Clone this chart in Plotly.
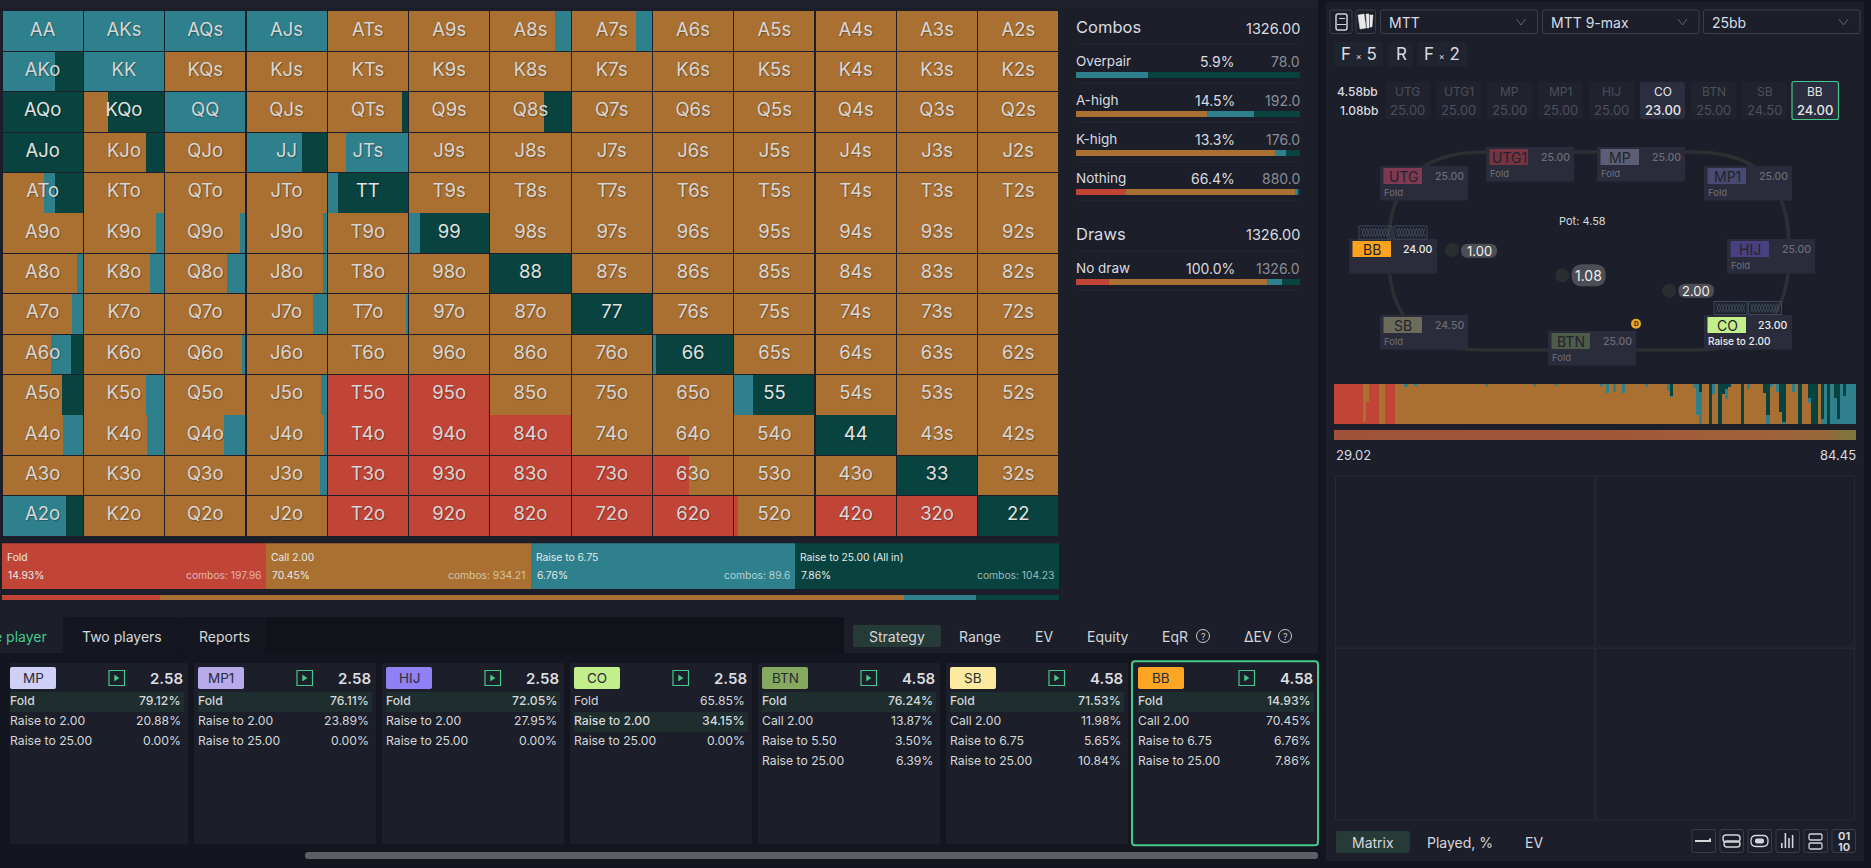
import numpy as np
import plotly.graph_objects as go

W, H = 1871, 868
FONT = "Inter"

RED = "#c04537"
ORANGE = "#a97031"
TEAL = "#2e808c"
DARK = "#08433f"
GREEN = "#44c98a"
PANEL = "#1c1f29"
OUTER = "#13161e"
TEXT = "#d9dbe0"

# ---- range matrix, percent of each hand per action
ranks = ["A", "K", "Q", "J", "T", "9", "8", "7", "6", "5", "4", "3", "2"]

matrix_fold = [
    [0, 0, 0, 0, 0, 0, 0, 0, 0, 0, 0, 0, 0],
    [0, 0, 0, 0, 0, 0, 0, 0, 0, 0, 0, 0, 0],
    [0, 0, 0, 0, 0, 0, 0, 0, 0, 0, 0, 0, 0],
    [0, 0, 0, 0, 0, 0, 0, 0, 0, 0, 0, 0, 0],
    [0, 0, 0, 0, 0, 0, 0, 0, 0, 0, 0, 0, 0],
    [0, 0, 0, 0, 0, 0, 0, 0, 0, 0, 0, 0, 0],
    [0, 0, 0, 0, 0, 0, 0, 0, 0, 0, 0, 0, 0],
    [0, 0, 0, 0, 0, 0, 0, 0, 0, 0, 0, 0, 0],
    [0, 0, 0, 0, 0, 0, 0, 0, 0, 0, 0, 0, 0],
    [0, 0, 0, 0, 100, 100, 0, 0, 0, 0, 0, 0, 0],
    [0, 0, 0, 0, 100, 100, 100, 0, 0, 0, 0, 0, 0],
    [0, 0, 0, 0, 100, 100, 100, 100, 45, 0, 0, 0, 0],
    [0, 0, 0, 0, 100, 100, 100, 100, 100, 5, 100, 100, 0],
]
matrix_call = [
    [0, 0, 0, 0, 100, 100, 81, 80, 100, 100, 100, 100, 100],
    [0, 0, 100, 100, 100, 100, 100, 100, 100, 100, 100, 100, 100],
    [0, 30, 0, 100, 92, 100, 66.5, 100, 100, 100, 100, 100, 100],
    [0, 77, 100, 0, 23, 100, 100, 100, 100, 100, 100, 100, 100],
    [52, 100, 100, 100, 0, 100, 100, 100, 100, 100, 100, 100, 100],
    [100, 90, 93, 95, 100, 0, 100, 100, 100, 100, 100, 100, 100],
    [93, 82, 77, 95, 100, 100, 0, 100, 100, 100, 100, 100, 100],
    [86.5, 100, 100, 83, 98, 100, 100, 0, 100, 100, 100, 100, 100],
    [60, 100, 96, 100, 100, 100, 100, 100, 0, 100, 100, 100, 100],
    [74, 77, 100, 93.5, 0, 0, 100, 100, 100, 0, 100, 100, 100],
    [76, 79, 73.5, 97, 0, 0, 0, 100, 100, 100, 0, 100, 100],
    [100, 100, 100, 92, 0, 0, 0, 0, 55, 100, 100, 0, 100],
    [0, 100, 100, 100, 0, 0, 0, 0, 0, 95, 0, 0, 0],
]
matrix_raise = [
    [100, 100, 100, 100, 0, 0, 19, 20, 0, 0, 0, 0, 0],
    [65, 100, 0, 0, 0, 0, 0, 0, 0, 0, 0, 0, 0],
    [0, 0, 100, 0, 0, 0, 0, 0, 0, 0, 0, 0, 0],
    [0, 0, 0, 69, 77, 0, 0, 0, 0, 0, 0, 0, 0],
    [13.5, 0, 0, 0, 12.5, 0, 0, 0, 0, 0, 0, 0, 0],
    [0, 10, 7, 5, 0, 13, 0, 0, 0, 0, 0, 0, 0],
    [7, 18, 23, 5, 0, 0, 0, 0, 0, 0, 0, 0, 0],
    [13.5, 0, 0, 17, 2, 0, 0, 0, 0, 0, 0, 0, 0],
    [26, 0, 4, 0, 0, 0, 0, 0, 4, 0, 0, 0, 0],
    [0, 23, 0, 6.5, 0, 0, 0, 0, 0, 23.5, 0, 0, 0],
    [24, 21, 26.5, 3, 0, 0, 0, 0, 0, 0, 0, 0, 0],
    [0, 0, 0, 8, 0, 0, 0, 0, 0, 0, 0, 0, 0],
    [79, 0, 0, 0, 0, 0, 0, 0, 0, 0, 0, 0, 0],
]
matrix_allin = [
    [0, 0, 0, 0, 0, 0, 0, 0, 0, 0, 0, 0, 0],
    [35, 0, 0, 0, 0, 0, 0, 0, 0, 0, 0, 0, 0],
    [100, 70, 0, 0, 8, 0, 33.5, 0, 0, 0, 0, 0, 0],
    [100, 23, 0, 31, 0, 0, 0, 0, 0, 0, 0, 0, 0],
    [34.5, 0, 0, 0, 87.5, 0, 0, 0, 0, 0, 0, 0, 0],
    [0, 0, 0, 0, 0, 87, 0, 0, 0, 0, 0, 0, 0],
    [0, 0, 0, 0, 0, 0, 100, 0, 0, 0, 0, 0, 0],
    [0, 0, 0, 0, 0, 0, 0, 100, 0, 0, 0, 0, 0],
    [14, 0, 0, 0, 0, 0, 0, 0, 96, 0, 0, 0, 0],
    [26, 0, 0, 0, 0, 0, 0, 0, 0, 76.5, 0, 0, 0],
    [0, 0, 0, 0, 0, 0, 0, 0, 0, 0, 100, 0, 0],
    [0, 0, 0, 0, 0, 0, 0, 0, 0, 0, 0, 100, 0],
    [21, 0, 0, 0, 0, 0, 0, 0, 0, 0, 0, 0, 100],
]

# ---- action summary
action_names = ["Fold", "Call 2.00", "Raise to 6.75", "Raise to 25.00 (All in)"]
action_pct = [14.93, 70.45, 6.76, 7.86]
action_combos = ["197.96", "934.21", "89.6", "104.23"]
action_colors = [RED, ORANGE, TEAL, DARK]

# ---- combos / draws breakdown
stat_names = ["Overpair", "A-high", "K-high", "Nothing", "No draw"]
stat_share = ["5.9%", "14.5%", "13.3%", "66.4%", "100.0%"]
stat_count = ["78.0", "192.0", "176.0", "880.0", "1326.0"]
stat_fold = [0, 0, 0, 22.3, 14.7]
stat_call = [0, 58.5, 88.8, 75.4, 70.5]
stat_raise = [32.1, 21, 4.9, 1.8, 6.7]
stat_allin = [67.9, 20.5, 6.3, 0.5, 8.1]

# ---- equity strip, run length: number of hands, then percent per action
strip_runs = [9, 1, 1, 3, 2, 3, 3, 1, 2, 1,
              21, 1, 14, 1, 6, 1, 13, 1, 1, 1,
              1, 1, 2, 1, 6, 1, 6, 1, 1, 6,
              1, 1, 1, 2, 1, 1, 1, 1, 1, 1,
              1, 3, 1, 1, 1, 4, 1, 1, 1, 1,
              1, 1, 1, 2, 1, 1, 1, 2, 1, 2,
              1, 1, 1, 1, 1, 1, 1, 1, 1, 3]
strip_fold = [100, 5, 55, 100, 0, 100, 0, 0, 0, 0,
              0, 0, 0, 0, 0, 0, 0, 0, 0, 0,
              0, 0, 0, 0, 0, 0, 0, 0, 0, 0,
              0, 0, 0, 0, 0, 0, 0, 0, 0, 0,
              0, 0, 0, 0, 0, 0, 0, 0, 0, 0,
              0, 0, 0, 0, 0, 0, 0, 0, 0, 0,
              0, 0, 0, 0, 0, 0, 0, 0, 0, 0]
strip_call = [0, 95, 45, 0, 100, 0, 100, 93, 100, 97,
              100, 97, 100, 97, 100, 94, 100, 95, 100, 77,
              100, 80, 100, 78, 100, 93, 100, 82, 68, 100,
              90, 23, 0, 100, 0, 75, 100, 0, 75, 63,
              92, 100, 0, 100, 88, 100, 78, 0, 93, 100,
              80, 30, 0, 100, 80, 100, 0, 100, 53, 0,
              100, 0, 0, 0, 0, 0, 0, 0, 0, 0]
strip_raise = [0, 0, 0, 0, 0, 0, 0, 7, 0, 3,
               0, 3, 0, 3, 0, 6, 0, 5, 0, 23,
               0, 20, 0, 22, 0, 7, 0, 18, 2, 0,
               10, 77, 80, 0, 0, 25, 0, 0, 0, 25,
               0, 0, 0, 0, 12, 0, 0, 22, 7, 0,
               20, 0, 5, 0, 20, 0, 0, 0, 12, 0,
               0, 12, 100, 0, 100, 65, 12, 100, 70, 100]
strip_allin = [0, 0, 0, 0, 0, 0, 0, 0, 0, 0,
               0, 0, 0, 0, 0, 0, 0, 0, 0, 0,
               0, 0, 0, 0, 0, 0, 0, 0, 30, 0,
               0, 0, 20, 0, 100, 0, 0, 100, 25, 12,
               8, 0, 100, 0, 0, 0, 22, 78, 0, 0,
               0, 70, 95, 0, 0, 0, 100, 0, 35, 100,
               0, 88, 0, 100, 0, 35, 88, 0, 30, 0]

equity_values = [29.02, 31, 33, 35, 37, 39, 41, 43, 45, 47, 49, 51, 53, 55, 57, 59, 61, 63, 65, 67,
                 69, 71, 73, 75, 77, 79, 81, 83, 84.45]

# ---- table seats
seat_names = ["UTG", "UTG1", "MP", "MP1", "HIJ", "BB", "SB", "BTN", "CO"]
seat_stacks = ["25.00", "25.00", "25.00", "25.00", "25.00", "24.00", "24.50", "25.00", "23.00"]
seat_actions = ["Fold", "Fold", "Fold", "Fold", "Fold", "", "Fold", "Fold", "Raise to 2.00"]
seat_badge = ["#7f3a52", "#763443", "#5b5e75", "#484a72", "#49407f", "#ffa31f", "#6d6b5c", "#4d5b48", "#c3ee8c"]
seat_left = [1380, 1486, 1597, 1704, 1727, 1349, 1380, 1548, 1704]
seat_top = [166, 147, 147, 166, 239, 239, 315, 331, 315]

row_names = ["UTG", "UTG1", "MP", "MP1", "HIJ", "CO", "BTN", "SB", "BB"]
row_stacks = ["25.00", "25.00", "25.00", "25.00", "25.00", "23.00", "25.00", "24.50", "24.00"]

# ---- strategy cards
card_names = ["MP", "MP1", "HIJ", "CO", "BTN", "SB", "BB"]
card_colors = ["#ced0f7", "#b8abeb", "#9180f5", "#c3ee8c", "#84a95f", "#fcea9e", "#ffa524"]
card_ev = ["2.58", "2.58", "2.58", "2.58", "4.58", "4.58", "4.58"]
card_lines = [
    [("Fold", "79.12%"), ("Raise to 2.00", "20.88%"), ("Raise to 25.00", "0.00%")],
    [("Fold", "76.11%"), ("Raise to 2.00", "23.89%"), ("Raise to 25.00", "0.00%")],
    [("Fold", "72.05%"), ("Raise to 2.00", "27.95%"), ("Raise to 25.00", "0.00%")],
    [("Fold", "65.85%"), ("Raise to 2.00", "34.15%"), ("Raise to 25.00", "0.00%")],
    [("Fold", "76.24%"), ("Call 2.00", "13.87%"), ("Raise to 5.50", "3.50%"), ("Raise to 25.00", "6.39%")],
    [("Fold", "71.53%"), ("Call 2.00", "11.98%"), ("Raise to 6.75", "5.65%"), ("Raise to 25.00", "10.84%")],
    [("Fold", "14.93%"), ("Call 2.00", "70.45%"), ("Raise to 6.75", "6.76%"), ("Raise to 25.00", "7.86%")],
]
card_best = [0, 0, 0, 1, 0, 0, 0]
card_left = [10, 194, 382, 570, 758, 946, 1132]
card_right = [188, 376, 564, 752, 940, 1128, 1318]
card_pad = [0, 4, 4, 4, 4, 4, 6]

shapes = []
notes = []


def box(x0, y0, x1, y1, fill=None, line=None, lw=1, layer="below"):
    shapes.append(dict(type="rect", xref="x", yref="y", x0=x0, y0=y0, x1=x1, y1=y1, layer=layer,
                       fillcolor=fill or "rgba(0,0,0,0)",
                       line=dict(color=line or "rgba(0,0,0,0)", width=lw if line else 0)))


def rbox(x0, y0, x1, y1, r=2, fill=None, line=None, lw=1, layer="below"):
    p = (f"M{x0 + r},{y0} L{x1 - r},{y0} Q{x1},{y0} {x1},{y0 + r} L{x1},{y1 - r} Q{x1},{y1} {x1 - r},{y1} "
         f"L{x0 + r},{y1} Q{x0},{y1} {x0},{y1 - r} L{x0},{y0 + r} Q{x0},{y0} {x0 + r},{y0} Z")
    shapes.append(dict(type="path", xref="x", yref="y", path=p, layer=layer,
                       fillcolor=fill or "rgba(0,0,0,0)",
                       line=dict(color=line or "rgba(0,0,0,0)", width=lw if line else 0)))


def path(p, color, lw=1, fill=None, layer="below"):
    shapes.append(dict(type="path", xref="x", yref="y", path=p, layer=layer,
                       fillcolor=fill or "rgba(0,0,0,0)", line=dict(color=color, width=lw)))


def circle(cx, cy, r, fill, line=None, lw=1):
    shapes.append(dict(type="circle", xref="x", yref="y", x0=cx - r, y0=cy - r, x1=cx + r, y1=cy + r,
                       layer="below", fillcolor=fill or "rgba(0,0,0,0)",
                       line=dict(color=line or "rgba(0,0,0,0)", width=lw if line else 0)))


def label(x, y, text, size=12, color=TEXT, anchor="left", weight=400, shadow=None):
    font = dict(family=FONT, size=size, color=color, weight=weight)
    if shadow:
        font["shadow"] = shadow
    notes.append(dict(x=x, y=y, xref="x", yref="y", text=text, showarrow=False, xanchor=anchor,
                      yanchor="middle", font=font, borderpad=0, borderwidth=0))


def xdom(a, b):
    return [a / W, b / W]


def ydom(a, b):
    return [1 - b / H, 1 - a / H]


# ---- panels
box(0, 0, W, H, OUTER)
box(0, 2, 1318, 618, PANEL)
box(0, 0, 1318, 8, "#1f222c")
box(1326, 2, 1864, 861, PANEL)

# ---- combos panel text
label(1076, 27, "Combos", 16.5)
label(1300, 28, "1326.00", 14.5, anchor="right")
label(1076, 234, "Draws", 16.5)
label(1300, 234, "1326.00", 14.5, anchor="right")
for yy in [44.3, 83.3, 122.3, 161.7, 200.3, 251.3, 290.3]:
    box(1076, yy - 0.5, 1300, yy + 0.5, "#262a34")
stat_text_y = [61.3, 100.3, 139.3, 178.3, 268.3]
stat_bar_y = [75, 114, 153, 192, 282]
for i, name in enumerate(stat_names):
    label(1076, stat_text_y[i], name, 13.5)
    label(1235, stat_text_y[i], stat_share[i], 14, anchor="right")
    label(1300, stat_text_y[i], stat_count[i], 14, "#8a8d96", anchor="right")

# ---- summary strip text
sum_left = [7, 271, 536, 800]
sum_right = [261, 525, 789.6, 1054]
sum_dim = ["#e3b5ad", "#d9c2a7", "#b5d2d6", "#9dbab7"]
for i, name in enumerate(action_names):
    label(sum_left[i], 557.3, name, 10.3, "#e8e8e8")
    label(sum_left[i] + 0.5, 575.3, f"{action_pct[i]:.2f}%", 10.3, "#e8e8e8")
    label(sum_right[i], 575.3, f"combos: {action_combos[i]}", 10.3, sum_dim[i], anchor="right")

# ---- tabs
box(0, 617, 63, 653, PANEL)
box(66.5, 617, 178.5, 653, "#14171f")
box(181.8, 617, 265, 653, "#14171f")
box(265, 617, 844, 653, "#10131a")
box(844, 617, 1318, 653, PANEL)
box(0, 653, 1318, 868, OUTER)
label(47, 636, "e player", 14, GREEN, anchor="right")
label(122, 636, "Two players", 14, "#d5d7dc", anchor="center")
label(224, 636, "Reports", 14, "#d5d7dc", anchor="center")
rbox(853, 625, 941, 647, 2, "#263b37")
tab_names = ["Strategy", "Range", "EV", "Equity", "EqR", "ΔEV"]
tab_x = [897, 980, 1044, 1107.5, 1175, 1257.5]
for t, xx in zip(tab_names, tab_x):
    label(xx, 636, t, 14, "#d5d7dc", anchor="center")
for xx in [1203, 1285]:
    circle(xx, 636, 6.5, None, "#c9cbd0", 1)
    label(xx, 636, "?", 9, "#c9cbd0", anchor="center")

# ---- strategy cards
for i, name in enumerate(card_names):
    l, r, pad = card_left[i], card_right[i], card_pad[i]
    if name == "BB":
        rbox(l, 661.3, r, 845.3, 3, PANEL, GREEN, 2)
    else:
        rbox(l, 662.7, r, 844, 2, PANEL)
    bx = l + pad
    rx = r - 5
    rbox(bx, 667, bx + 46, 689, 2, card_colors[i])
    label(bx + 23, 678, name, 13.5, "#2a2c38", anchor="center")
    box(rx - 74, 670.5, rx - 58.5, 685.5, None, GREEN, 1.2)
    path(f"M{rx - 68.5},675 L{rx - 64},678 L{rx - 68.5},681 Z", GREEN, 0.5, GREEN)
    label(rx, 678.7, card_ev[i], 15, "#dcdde0", anchor="right", weight=600)
    box(bx, 692 + 20 * card_best[i], rx + 1, 712 + 20 * card_best[i], "#1e2d2d")
    for j, (act, pct) in enumerate(card_lines[i]):
        yy = 700.7 + 20 * j
        w = 550 if j == card_best[i] else 400
        label(bx, yy, act, 12.2, "#d5d7da", weight=w)
        label(rx - 2, yy, pct, 12.2, "#d5d7da", anchor="right", weight=w)
rbox(305, 852, 1318, 859, 3, "#5a6065")

# ---- top right controls
rbox(1330, 10, 1352, 33.5, 2, None, "#3d3f48")
rbox(1336, 14, 1347, 30, 2, None, "#d0d2d8", 1.5)
box(1339, 18, 1345, 19, "#d0d2d8")
box(1337, 24, 1346, 25, "#d0d2d8")
rbox(1356, 10, 1375.5, 33.5, 2, None, "#3d3f48")
path("M1358,15 L1364,14 L1366,28 L1360,29 Z", "#e8e8e8", 0.5, "#e8e8e8")
path("M1366,14 L1369,14 L1369,28 L1367,28 Z", "#e8e8e8", 0.5, "#e8e8e8")
path("M1370,15 L1373,15 L1372,27 L1370,27 Z", "#e8e8e8", 0.5, "#e8e8e8")
drop_x = [(1380.5, 1537.5), (1542.5, 1699), (1703.5, 1860)]
drop_text = ["MTT", "MTT 9-max", "25bb"]
for (a, b), t in zip(drop_x, drop_text):
    rbox(a, 10, b, 33.5, 2, None, "#3d3f48")
    label(a + 8, 22, t, 14, "#d9dde5")
    path(f"M{b - 21},19 L{b - 16.5},25 L{b - 12},19", "#61646c", 1)
for a, b in [(1334, 1383), (1388.5, 1413), (1417, 1467)]:
    rbox(a, 42, b, 66.7, 2, "#20242f")
label(1358.5, 54, "F <span style='font-size:9px'>×</span> 5", 17, anchor="center")
label(1401, 54, "R", 17, anchor="center")
label(1442, 54, "F <span style='font-size:9px'>×</span> 2", 17, anchor="center")

label(1377.5, 91, "4.58bb", 12, anchor="right", weight=500)
label(1377.5, 110, "1.08bb", 12, anchor="right", weight=500)
row_x = [1385.4, 1436.3, 1487, 1537.8, 1589, 1640, 1691, 1742, 1792]
for i, name in enumerate(row_names):
    x0 = row_x[i]
    x1 = x0 + (46.5 if name == "BB" else 45)
    if name == "BB":
        rbox(x0, 81.5, x1, 119.5, 2, "#2b2e3e", GREEN, 1.2)
    elif name == "CO":
        rbox(x0, 82, x1, 119, 2, "#2b2e3e")
    else:
        rbox(x0, 82, x1, 119, 2, "#20232e")
    on = name in ("BB", "CO")
    label((x0 + x1) / 2, 91, name, 12, "#e4e5e8" if on else "#4d4f59", anchor="center")
    label((x0 + x1) / 2, 110, row_stacks[i], 13, "#e4e5e8" if on else "#4d4f59", anchor="center", weight=500 if on else 400)

# ---- table
rbox(1388.5, 152, 1789, 350, 95, None, "#2e2f33", 3.5)
for i, name in enumerate(seat_names):
    l, t = seat_left[i], seat_top[i]
    active = name in ("BB", "CO")
    box(l, t, l + 88, t + 34.5, "#2a2c3b")
    box(l + 3.5, t + 2, l + 42, t + 18, seat_badge[i])
    label(l + 23, t + 10.2, name, 14, "#1e1f28" if active else "#22232d", anchor="center")
    label(l + 84, t + 10, seat_stacks[i], 10.5, "#eceded" if active else "#6a6c76", anchor="right", weight=500)
    if seat_actions[i]:
        label(l + 3.5, t + 26, seat_actions[i], 10 if active else 9.5, "#eceded" if active else "#6f707a",
              weight=500 if active else 400)
for cx, cy in [(1359, 226), (1394, 226), (1714, 301.5), (1748.5, 301.5)]:
    box(cx, cy, cx + 33, cy + 13, None, "#465366", 0.8)
    for phase in (0, 1):
        zz = " L".join(f"{cx + 2 + k * 2.9:.1f},{cy + (2 if (k + phase) % 2 else 11)}" for k in range(11))
        path("M" + zz, "#465366", 0.7)
for cx, cy, px0, px1, py0, py1, txt, sz in [
    (1452, 250, 1461, 1497, 243.7, 257.7, "1.00", 13),
    (1562.4, 275.3, 1571.6, 1605.7, 264.3, 286.3, "1.08", 14),
    (1669.3, 290.7, 1678.4, 1714, 283.7, 297.7, "2.00", 13),
]:
    circle(cx, cy, 7, "#2c2d31")
    rbox(px0, py0, px1, py1, (py1 - py0) / 2 - 0.1, "#4c4d55")
    label((px0 + px1) / 2, (py0 + py1) / 2, txt, sz, "#f0f0f0", anchor="center")
circle(1636, 323.7, 5, "#e8a92b")
label(1636, 323.9, "D", 6.5, "#3a2c10", anchor="center", weight=700)
label(1582.5, 221, "Pot: 4.58", 11, "#d5d7dc", anchor="center")
label(1335.5, 455, "29.02", 13)
label(1856, 455, "84.45", 13, anchor="right")

# ---- lower right grid
for a, b, c, d in [(1335.5, 476, 1594.8, 646.7), (1596, 476, 1854.5, 646.7),
                   (1335.5, 648.3, 1594.8, 819.7), (1596, 648.3, 1854.5, 819.7)]:
    box(a, b, c, d, None, "#272a33", 1)
rbox(1336, 831, 1410, 853, 2, "#263b37")
label(1373, 842, "Matrix", 14, "#d5d7dc", anchor="center")
label(1459.5, 842, "Played, %", 14, "#d5d7dc", anchor="center")
label(1534, 842, "EV", 14, "#d5d7dc", anchor="center")
ix = [1692, 1720, 1748, 1776, 1804, 1832]
for xx in ix:
    rbox(xx, 829.5, xx + 23.5, 852.5, 2, None, "#3a3c44")
GLYPH = "#d4d6da"
box(ix[0] + 3, 840, ix[0] + 19, 842, GLYPH)
box(ix[0] + 17, 838.5, ix[0] + 19, 842, GLYPH)
rbox(ix[1] + 3, 835, ix[1] + 20, 842, 3, None, GLYPH, 1.4)
rbox(ix[1] + 4, 841, ix[1] + 20, 847, 3, None, GLYPH, 1.4)
rbox(ix[2] + 3, 835.5, ix[2] + 20, 846.5, 5, None, GLYPH, 1.3)
rbox(ix[2] + 7, 838.5, ix[2] + 16, 843.5, 2, GLYPH)
for k, top in enumerate([843, 833, 838, 835]):
    box(ix[3] + 5 + k * 3.6, top, ix[3] + 6.6 + k * 3.6, 848, GLYPH)
rbox(ix[4] + 5, 834, ix[4] + 18, 840, 1.5, None, GLYPH, 1.3)
rbox(ix[4] + 5, 843, ix[4] + 18, 849, 1.5, None, GLYPH, 1.3)
label(ix[5] + 11.5, 836, "01", 11, GLYPH, anchor="center", weight=700)
label(ix[5] + 11.5, 846.5, "10", 11, GLYPH, anchor="center", weight=700)

# ---- traces
fig = go.Figure()
fig.add_trace(go.Scatter(x=[0], y=[0], mode="markers", marker=dict(opacity=0), hoverinfo="skip", xaxis="x", yaxis="y"))

# matrix cells, one bar trace per action stacked inside each cell
tables = [matrix_fold, matrix_call, matrix_raise, matrix_allin]
done = np.zeros((13, 13))
rows, cols = np.mgrid[0:13, 0:13]
for table, color in zip(tables, action_colors):
    vals = np.array(table, dtype=float)
    keep = vals > 0
    fig.add_trace(go.Bar(orientation="h", x=(vals[keep] * 0.985 / 100),
                         base=cols[keep] + 0.0075 + done[keep] * 0.985 / 100,
                         y=rows[keep] + 0.5, width=0.976, marker=dict(color=color, line=dict(width=0)),
                         hoverinfo="skip", xaxis="x2", yaxis="y2"))
    done += vals

hand_text, hand_x, hand_y, hand_col = [], [], [], []
for r, a in enumerate(ranks):
    for c, b in enumerate(ranks):
        if r == c:
            hand = a + b
        elif r < c:
            hand = a + b + "s"
        else:
            hand = b + a + "o"
        hand_text.append(hand)
        hand_x.append(c + 0.5)
        hand_y.append(r + 0.5)
        hand_col.append("#e2e2e2" if matrix_allin[r][c] > 50 else "#d6d6d6")
fig.add_trace(go.Scatter(x=hand_x, y=hand_y, text=hand_text, mode="text", hoverinfo="skip",
                         textfont=dict(family=FONT, size=18.5, color=hand_col, weight=400,
                                       shadow="1px 1px 1px rgba(0,0,0,0.3)"),
                         cliponaxis=False, xaxis="x2", yaxis="y2"))

# summary strip: equal blocks above, true proportions below
for i, color in enumerate(action_colors):
    fig.add_trace(go.Bar(orientation="h", x=[1], y=["blocks"], marker=dict(color=color, line=dict(width=0)),
                         hoverinfo="skip", xaxis="x3", yaxis="y3"))
    fig.add_trace(go.Bar(orientation="h", x=[action_pct[i]], y=["share"], marker=dict(color=color, line=dict(width=0)),
                         hoverinfo="skip", xaxis="x4", yaxis="y4"))

# combos breakdown bars
for vals, color in zip([stat_fold, stat_call, stat_raise, stat_allin], action_colors):
    fig.add_trace(go.Bar(orientation="h", x=vals, y=stat_bar_y, width=5.7,
                         marker=dict(color=color, line=dict(width=0)), hoverinfo="skip", xaxis="x5", yaxis="y5"))

# equity strip
strip_x = np.arange(sum(strip_runs)) + 0.5
for vals, color in zip([strip_fold, strip_call, strip_raise, strip_allin], action_colors):
    fig.add_trace(go.Bar(x=strip_x, y=np.repeat(vals, strip_runs), width=1.0,
                         marker=dict(color=color, line=dict(width=0)), hoverinfo="skip", xaxis="x6", yaxis="y6"))

fig.add_trace(go.Heatmap(z=[equity_values], x=list(range(len(equity_values))), y=[0], showscale=False,
                         zsmooth="best", hoverinfo="skip", zmin=29.02, zmax=84.45,
                         colorscale=[[0, "#9f5238"], [0.5, "#a05638"], [0.85, "#a0623a"], [0.95, "#96683a"], [1, "#7a783c"]],
                         xaxis="x7", yaxis="y7"))


def hidden(**kw):
    return dict(visible=False, fixedrange=True, showgrid=False, zeroline=False, **kw)


fig.update_layout(
    width=W, height=H, margin=dict(l=0, r=0, t=0, b=0), autosize=False,
    paper_bgcolor=OUTER, plot_bgcolor="rgba(0,0,0,0)", showlegend=False,
    barmode="stack", bargap=0, font=dict(family=FONT),
    shapes=shapes, annotations=notes,
    xaxis=hidden(range=[0, W], domain=[0, 1]),
    yaxis=hidden(range=[H, 0], domain=[0, 1]),
    xaxis2=hidden(range=[0, 13], domain=xdom(2, 1059)),
    yaxis2=hidden(range=[13, 0], domain=ydom(10.8, 536)),
    xaxis3=hidden(range=[0, 4], domain=xdom(2, 1059)),
    yaxis3=hidden(domain=ydom(543.3, 589.7)),
    xaxis4=hidden(range=[0, 100], domain=xdom(2, 1059)),
    yaxis4=hidden(domain=ydom(595, 600)),
    xaxis5=hidden(range=[0, 100], domain=xdom(1076, 1300)),
    yaxis5=hidden(range=[290, 70], domain=ydom(70, 290)),
    xaxis6=hidden(range=[0, sum(strip_runs)], domain=xdom(1334, 1856)),
    yaxis6=hidden(range=[0, 100], domain=ydom(384, 424)),
    xaxis7=hidden(range=[0, len(equity_values) - 1], domain=xdom(1334, 1856)),
    yaxis7=hidden(range=[-0.5, 0.5], domain=ydom(430, 440)),
)

fig.write_html("out.html", config=dict(displayModeBar=False),
               post_script="document.body.style.margin='0';document.body.style.overflow='hidden';")
